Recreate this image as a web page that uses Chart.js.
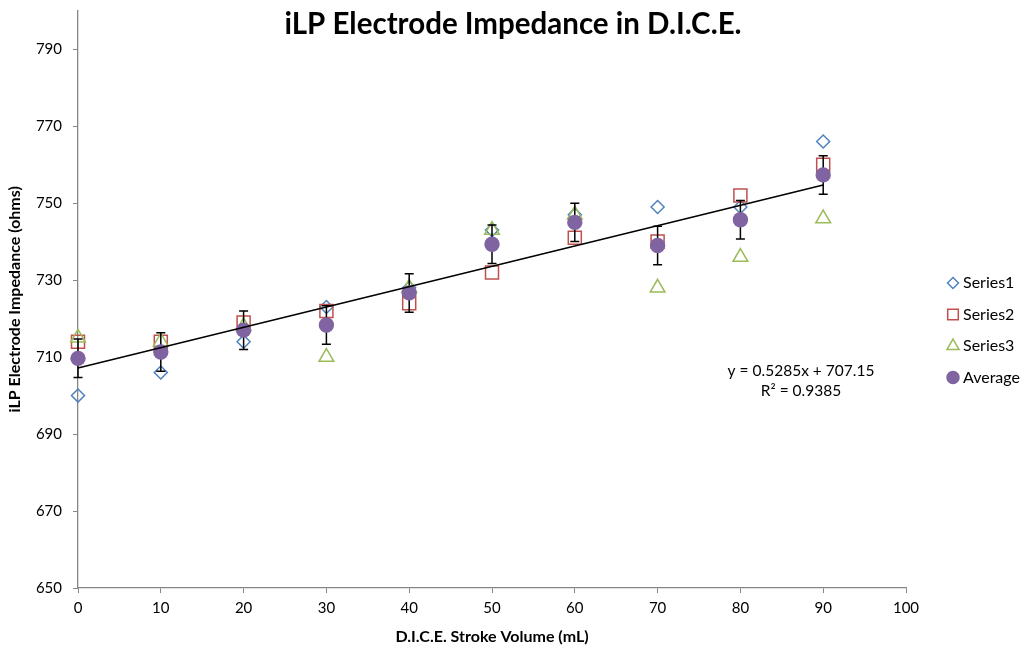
<!DOCTYPE html>
<html>
<head>
<meta charset="utf-8">
<script src="https://cdn.jsdelivr.net/npm/chart.js"></script>
<style>
  html, body { margin: 0; padding: 0; background: #fff; }
</style>
</head>
<body>
<canvas id="chart" width="1025" height="649"></canvas>
<script>
// stroke volume (mL) and impedance readings (ohms)
const volumes = [0, 10, 20, 30, 40, 50, 60, 70, 80, 90];
const series1 = [700, 706, 714, 723, 728, 743, 747, 749, 749, 766];
const series2 = [714, 714, 719, 722, 724, 732, 741, 740, 752, 760];
const series3 = [715, 714, 718, 710, 728, 743, 747, 728, 736, 746];
const average = [709.67, 711.33, 717, 718.33, 726.67, 739.33, 745, 739, 745.67, 757.33];
const avgError = [5, 5, 5, 5, 5, 5, 5, 5, 5, 5];
const yTicks = [650, 670, 690, 710, 730, 750, 770, 790];

// linear trendline on the averages
const trendSlope = 0.5285;
const trendIntercept = 707.15;
const trendR2 = 0.9385;
const trendRange = [0, 90];

const chartTitle = 'iLP Electrode Impedance in D.I.C.E.';
const xTitle = 'D.I.C.E. Stroke Volume (mL)';
const yTitle = 'iLP Electrode Impedance (ohms)';

const toPoints = (arr) => volumes.map((v, i) => ({ x: v, y: arr[i] }));

Chart.defaults.font.family = 'Lato, "Open Sans", sans-serif';
Chart.defaults.color = '#000';

const errorBars = {
  id: 'errorBars',
  beforeDatasetDraw(chart, args) {
    if (args.index !== 3) return;
    const ctx = chart.ctx;
    const x = chart.scales.x, y = chart.scales.y;
    ctx.save();
    ctx.strokeStyle = '#000';
    ctx.lineWidth = 1.5;
    for (let i = 0; i < volumes.length; i++) {
      const px = x.getPixelForValue(volumes[i]);
      const top = y.getPixelForValue(average[i] + avgError[i]);
      const bot = y.getPixelForValue(average[i] - avgError[i]);
      ctx.beginPath();
      ctx.moveTo(px, top); ctx.lineTo(px, bot);
      ctx.moveTo(px - 4.5, top); ctx.lineTo(px + 4.5, top);
      ctx.moveTo(px - 4.5, bot); ctx.lineTo(px + 4.5, bot);
      ctx.stroke();
    }
    ctx.restore();
  }
};

const overlay = {
  id: 'overlay',
  afterDraw(chart) {
    const ctx = chart.ctx;
    ctx.save();
    ctx.fillStyle = '#000';
    ctx.textAlign = 'center';
    ctx.textBaseline = 'middle';
    ctx.font = 'bold 29.5px Lato';
    ctx.fillText(chartTitle, 513, 24);

    ctx.font = '15.5px Lato';
    ctx.fillText('y = ' + trendSlope + 'x + ' + trendIntercept, 801, 371);
    ctx.fillText('R² = ' + trendR2, 801, 391);

    // legend
    ctx.textAlign = 'left';
    ctx.font = '16px Lato';
    const legendSets = chart.data.datasets.slice(0, 4);
    legendSets.forEach((ds, i) => {
      const ly = 283 + i * 31.5;
      ctx.strokeStyle = ds.borderColor;
      ctx.fillStyle = ds.backgroundColor;
      ctx.lineWidth = 1.5;
      Chart.helpers.drawPoint(ctx, {
        pointStyle: ds.pointStyle,
        radius: ds.legendRadius,
        rotation: 0,
        borderWidth: 1.5
      }, 953, ly);
      ctx.fillStyle = '#000';
      ctx.fillText(ds.label, 963, ly);
    });
    ctx.restore();
  }
};

new Chart('chart', {
  type: 'scatter',
  data: {
    datasets: [
      {
        label: 'Series1', data: toPoints(series1), order: 4,
        pointStyle: 'rectRot', pointRadius: 6.5, legendRadius: 5.5,
        borderColor: '#4F81BD', backgroundColor: 'rgba(0,0,0,0)', borderWidth: 1.5, clip: false
      },
      {
        label: 'Series2', data: toPoints(series2), order: 3,
        pointStyle: 'rect', pointRadius: 9.2, legendRadius: 7.5,
        borderColor: '#C0504D', backgroundColor: 'rgba(0,0,0,0)', borderWidth: 1.5, clip: false
      },
      {
        label: 'Series3', data: toPoints(series3), order: 2,
        pointStyle: 'triangle', pointRadius: 8.5, legendRadius: 7,
        borderColor: '#9BBB59', backgroundColor: 'rgba(0,0,0,0)', borderWidth: 1.5, clip: false
      },
      {
        label: 'Average', data: toPoints(average), order: 1,
        pointStyle: 'circle', pointRadius: 7.7, legendRadius: 6,
        borderColor: '#8064A2', backgroundColor: '#8064A2', borderWidth: 0, clip: false
      },
      {
        label: 'Linear (Average)',
        data: trendRange.map(v => ({ x: v, y: trendSlope * v + trendIntercept })),
        order: 0, showLine: true, pointRadius: 0,
        borderColor: '#000', borderWidth: 1.5, clip: false
      }
    ]
  },
  options: {
    responsive: false,
    animation: false,
    layout: { padding: { top: 8, right: 119, left: 0, bottom: 0 } },
    plugins: {
      legend: { display: false },
      tooltip: { enabled: false }
    },
    scales: {
      x: {
        type: 'linear', min: 0, max: 100,
        ticks: { stepSize: 10, padding: 6, color: '#000', font: { size: 15 } },
        grid: { drawOnChartArea: false, tickLength: 5, color: '#868686' },
        border: { color: '#868686', width: 1.3 },
        title: {
          display: true, text: xTitle, color: '#000',
          font: { size: 16, weight: 'bold' }, padding: { top: 3, bottom: 3 }
        },
        afterFit(scale) { scale.height = 61; }
      },
      y: {
        type: 'linear', min: 650, max: 800,
        afterBuildTicks(scale) { scale.ticks = yTicks.map(v => ({ value: v })); },
        ticks: { padding: 11, color: '#000', font: { size: 15 } },
        grid: { drawOnChartArea: false, tickLength: 5, color: '#868686' },
        border: { color: '#868686', width: 1.3 },
        title: {
          display: true, text: yTitle, color: '#000',
          font: { size: 16, weight: 'bold' }, padding: { top: 5, bottom: 4 }
        },
        afterFit(scale) {
          scale.width = 78;
          scale.paddingTop = 0;
          scale.paddingBottom = 0;
        }
      }
    }
  },
  plugins: [errorBars, overlay]
});
</script>
</body>
</html>
